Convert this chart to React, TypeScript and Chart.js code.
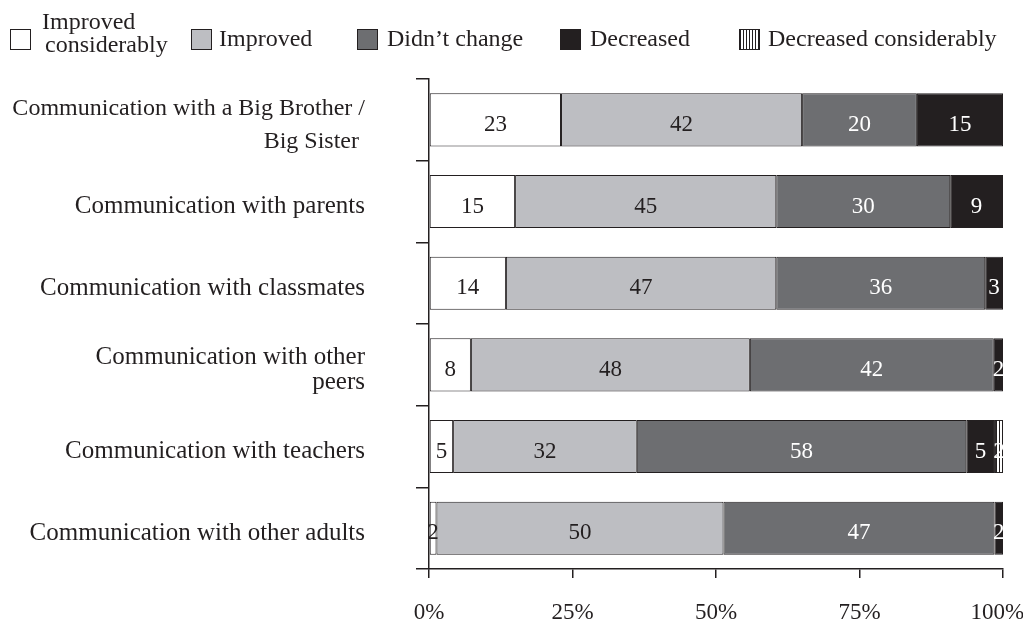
import React, { useEffect, useRef } from "react";
import { Chart, registerables } from "chart.js";

Chart.register(...registerables);

const categories: (string | string[])[] = [
  ["Communication with a Big Brother /", "Big Sister "],
  "Communication with parents",
  "Communication with classmates",
  ["Communication with other", "peers"],
  "Communication with teachers",
  "Communication with other adults",
];

const seriesNames = [
  "Improved considerably",
  "Improved",
  "Didn’t change",
  "Decreased",
  "Decreased considerably",
];

const improvedConsiderably = [23, 15.0, 13.4, 7.3, 4.2, 1.3];
const improved = [42, 45.5, 47.1, 48.6, 32.0, 50.0];
const didntChange = [20, 30.3, 36.4, 42.5, 57.4, 47.2];
const decreased = [15, 9.2, 3.1, 1.6, 5.0, 1.5];
const decreasedConsiderably = [null, null, null, null, 1.4, null];

const lblImprovedConsiderably = ["23", "15", "14", "8", "5", "2"];
const lblImproved = ["42", "45", "47", "48", "32", "50"];
const lblDidntChange = ["20", "30", "36", "42", "58", "47"];
const lblDecreased = ["15", "9", "3", "2", "5", "2"];
const lblDecreasedConsiderably = [null, null, null, null, "2", null];

const xTicks = [0, 25, 50, 75, 100];
const xTickLabels = ["0%", "25%", "50%", "75%", "100%\u2002"];

const INK = "#231f20";
const FONT = "'Liberation Serif', 'DejaVu Serif', serif";

function makeStripePattern(): CanvasPattern | string {
  const c = document.createElement("canvas");
  c.width = 3;
  c.height = 4;
  const g = c.getContext("2d");
  if (!g) return "#fff";
  g.fillStyle = "#ffffff";
  g.fillRect(0, 0, 3, 4);
  g.fillStyle = INK;
  g.fillRect(0, 0, 1, 4);
  const p = g.createPattern(c, "repeat");
  return p || "#fff";
}

const labelPlugin = {
  id: "segLabels",
  afterDatasetsDraw(chart: any) {
    const { ctx } = chart;
    const allLabels = [
      lblImprovedConsiderably,
      lblImproved,
      lblDidntChange,
      lblDecreased,
      lblDecreasedConsiderably,
    ];
    const colors = [INK, INK, "#ffffff", "#ffffff", "#ffffff"];
    ctx.save();
    ctx.font = `23px ${FONT}`;
    ctx.textAlign = "center";
    ctx.textBaseline = "middle";
    chart.data.datasets.forEach((_ds: any, di: number) => {
      const meta = chart.getDatasetMeta(di);
      meta.data.forEach((el: any, i: number) => {
        const txt = allLabels[di][i];
        if (!txt) return;
        const x = (el.x + el.base) / 2;
        ctx.fillStyle = colors[di];
        ctx.fillText(txt, x, el.y + 5);
      });
    });
    ctx.restore();
  },
};

const legendBoxes = [
  { left: 10, bg: "#ffffff" },
  { left: 191, bg: "#bdbec2" },
  { left: 357, bg: "#6d6e71" },
  { left: 560, bg: INK },
  { left: 739, bg: `repeating-linear-gradient(90deg, ${INK} 0px, ${INK} 1px, #ffffff 1px, #ffffff 3px)` },
];

export default function App() {
  const ref = useRef<HTMLCanvasElement | null>(null);

  useEffect(() => {
    document.body.style.margin = "0";
    if (!ref.current) return;
    const stripe = makeStripePattern();
    const fills = ["#ffffff", "#bdbec2", "#6d6e71", INK, stripe];
    const values = [improvedConsiderably, improved, didntChange, decreased, decreasedConsiderably];
    const chart = new Chart(ref.current, {
      type: "bar",
      data: {
        labels: categories,
        datasets: values.map((v, i) => ({
          label: seriesNames[i],
          data: v as any,
          backgroundColor: fills[i] as any,
          borderColor: INK,
          borderWidth: 1,
          borderSkipped: false,
          barPercentage: 0.65,
          categoryPercentage: 1,
        })),
      },
      options: {
        indexAxis: "y",
        animation: false,
        responsive: false,
        events: [],
        layout: { padding: { top: 79, right: 20, left: 0, bottom: 0 } },
        plugins: {
          legend: { display: false },
          tooltip: { enabled: false },
          title: { display: false },
        },
        scales: {
          x: {
            type: "linear",
            stacked: true,
            min: 0,
            max: 100,
            afterBuildTicks: (scale: any) => {
              scale.ticks = xTicks.map((v) => ({ value: v }));
            },
            afterFit: (scale: any) => {
              scale.height = 60;
              scale.paddingLeft = 0;
              scale.paddingRight = 0;
            },
            grid: {
              drawOnChartArea: false,
              drawTicks: true,
              tickLength: 9,
              color: INK,
              lineWidth: 1.5,
            },
            border: { display: true, color: INK, width: 1.5 },
            ticks: {
              padding: 21,
              maxRotation: 0,
              autoSkip: false,
              color: INK,
              font: { family: FONT, size: 23 },
              callback: (_v: any, i: number) => xTickLabels[i],
            },
          },
          y: {
            stacked: true,
            afterFit: (scale: any) => {
              scale.width = 429;
              scale.paddingTop = 0;
              scale.paddingBottom = 0;
            },
            grid: {
              offset: true,
              drawOnChartArea: false,
              drawTicks: true,
              tickLength: 13,
              color: INK,
              lineWidth: 1.5,
            },
            border: { display: true, color: INK, width: 1.5 },
            ticks: {
              padding: 51,
              labelOffset: 5,
              autoSkip: false,
              color: INK,
              font: (ctx: any) => ({
                family: FONT,
                size: ctx.index === 0 ? 24 : 25,
                lineHeight: ctx.index === 0 ? 1.375 : ctx.index === 3 ? 0.97 : 1.2,
              }),
            },
          },
        },
      },
      plugins: [labelPlugin],
    });
    return () => chart.destroy();
  }, []);

  const legendText: React.CSSProperties = {
    position: "absolute",
    fontFamily: FONT,
    fontSize: 24,
    color: INK,
    whiteSpace: "nowrap",
    lineHeight: "24px",
  };

  return (
    <div style={{ position: "relative", width: 1023, height: 629, background: "#fff" }}>
      <canvas ref={ref} width={1023} height={629} style={{ width: 1023, height: 629, display: "block" }} />
      {legendBoxes.map((b, i) => (
        <div
          key={i}
          style={{
            position: "absolute",
            left: b.left,
            top: 29,
            width: 21,
            height: 21,
            boxSizing: "border-box",
            border: `1px solid ${INK}`,
            background: b.bg,
          }}
        />
      ))}
      <div style={{ ...legendText, left: 42, top: 9 }}>Improved</div>
      <div style={{ ...legendText, left: 45, top: 32 }}>considerably</div>
      <div style={{ ...legendText, left: 219, top: 26 }}>Improved</div>
      <div style={{ ...legendText, left: 387, top: 26 }}>Didn’t change</div>
      <div style={{ ...legendText, left: 590, top: 26 }}>Decreased</div>
      <div style={{ ...legendText, left: 768, top: 26 }}>Decreased considerably</div>
    </div>
  );
}
